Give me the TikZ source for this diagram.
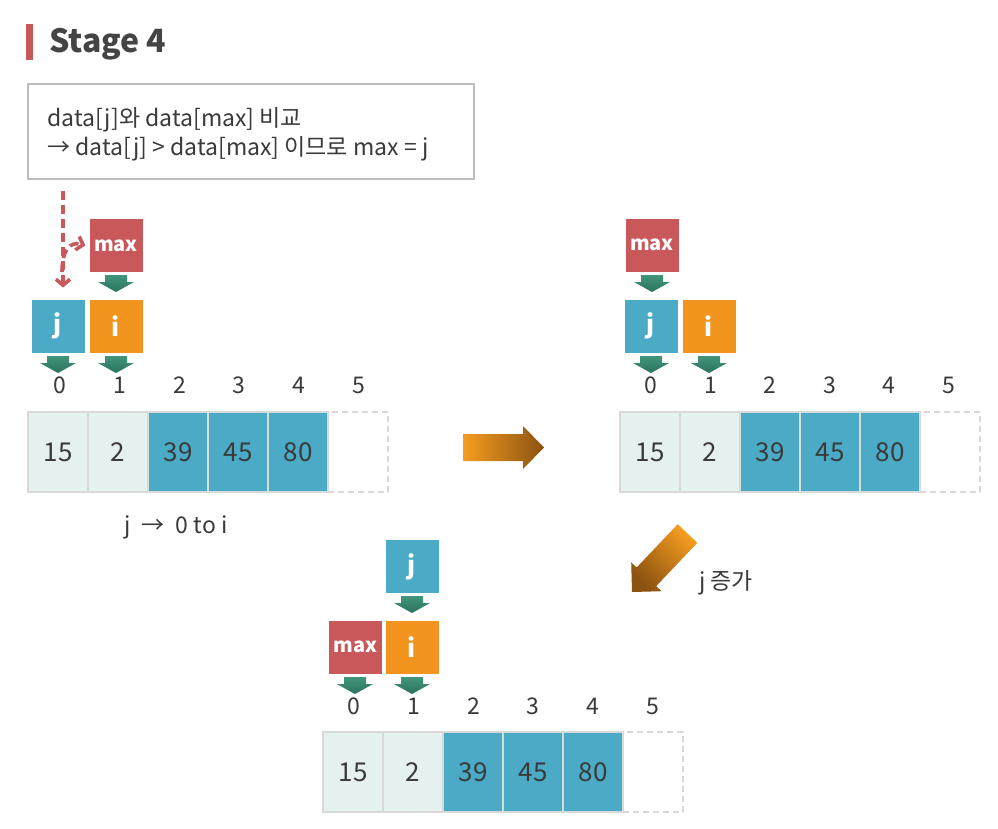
\documentclass[tikz,border=0pt]{standalone}
\usepackage{fontspec}
\setmainfont{Noto Sans CJK KR}
\usetikzlibrary{arrows.meta,calc,fit,backgrounds}
\definecolor{cred}{HTML}{C9585B}
\definecolor{cblue}{HTML}{4BABC6}
\definecolor{corange}{HTML}{F1951F}
\definecolor{gtop}{HTML}{42957C}
\definecolor{gbot}{HTML}{2A735E}
\definecolor{ctext}{HTML}{3A3A3A}
\definecolor{ctitle}{HTML}{444444}
\definecolor{clight}{HTML}{E5F1EE}
\definecolor{cgrid}{HTML}{D9D9D9}
\definecolor{cframe}{HTML}{F1F1F1}
\definecolor{cboxline}{HTML}{BDBDBD}
\definecolor{oa}{HTML}{F59D20}
\definecolor{ob}{HTML}{8B5210}
\tikzset{
  box/.style={minimum width=53pt, minimum height=53pt, inner sep=0pt, text=white,
    font=\bfseries\fontsize{25}{25}\selectfont},
  maxbox/.style={box, fill=cred, font=\bfseries\fontsize{20}{20}\selectfont},
  jbox/.style={box, fill=cblue},
  ibox/.style={box, fill=corange},
  framebox/.style={fill=cframe, inner sep=3.5pt},
  cell/.style={minimum width=60pt, minimum height=80pt, inner sep=0pt, draw=cgrid,
    line width=2pt, text=ctext, font=\fontsize{26}{26}\selectfont},
  lcell/.style={cell, fill=clight},
  bcell/.style={cell, fill=cblue},
  ecell/.style={cell, dashed, dash pattern=on 6pt off 4pt},
  idx/.style={text=ctext, font=\fontsize{23}{23}\selectfont, inner sep=0pt},
  reddash/.style={draw=cred, line width=3.6pt, dash pattern=on 9pt off 5pt,
    -{Straight Barb[length=6pt,width=14pt]}},
  garr/.pic={\shade[top color=gtop, bottom color=gbot]
    (-11,0) -- (11,0) -- (11,7) -- (18,7) -- (0,17) -- (-18,7) -- (-11,7) -- cycle;},
}
\begin{document}
\begin{tikzpicture}[x=1pt,y=-1pt]
\useasboundingbox (0,0) rectangle (998,828);
\fill[white] (0,0) rectangle (998,828);

% title
\fill[cred] (26,24) rectangle (33,60);
\node[anchor=base west, inner sep=0pt, text=ctitle, font=\bfseries\fontsize{32}{32}\selectfont] (title) at (49,52) {Stage 4};

% description box
\node[draw=cboxline, line width=1.5pt, minimum width=446pt, minimum height=95pt, inner sep=0pt] (desc) at (251,131.5) {};
\node[anchor=base west, inner sep=0pt, text=ctext, font=\fontsize{23}{23}\selectfont] (l1) at (47,126) {data[j]와 data[max] 비교};
\node[anchor=base west, inner sep=0pt, text=ctext, font=\fontsize{23}{23}\selectfont] (l2) at (47,155) {→ data[j] > data[max] 이므로 max = j};

% ---------- stage 1 (top left) ----------
\node[maxbox] (s1max) at (116,245.5) {max};
\node[jbox] (s1j) at (58,326) {j};
\node[ibox] (s1i) at (116,326) {i};
\begin{scope}[on background layer]
  \node[framebox, fit=(s1max)] (s1f1) {};
  \node[framebox, fit=(s1j)(s1i)] (s1f2) {};
\end{scope}
\pic at (116,275) {garr};
\pic at (58,356) {garr};
\pic at (116,356) {garr};
\foreach \v/\s [count=\k from 0] in {15/lcell,2/lcell,39/bcell,45/bcell,80/bcell,/ecell}{
  \node[\s] (s1c\k) at (58+60*\k,452) {\v};
  \node[idx] (s1x\k) at (60+59.7*\k,385) {\k};
}
\node[text=ctext, font=\fontsize{23}{23}\selectfont, inner sep=0pt] (loop) at (176,527) {j\hspace{11pt}→\hspace{11pt}0 to i};

% dashed red arrows
\coordinate (d0) at (63,191);
\coordinate (d1) at (62,272);
\draw[reddash, shorten >=8pt] (d0) -- (d0 |- s1f2.north);
\draw[reddash] (d1) .. controls (62,250) and (70,241) .. ([xshift=-4pt]s1max.west);

% horizontal orange arrow
\shade[left color=oa, right color=ob] (463,434) -- (523,434) -- (523,426) -- (544,447.5)
  -- (523,469) -- (523,461) -- (463,461) -- cycle;

% ---------- stage 2 (top right) ----------
\node[maxbox] (s2max) at (652,245) {max};
\node[jbox] (s2j) at (651,326) {j};
\node[ibox] (s2i) at (709,326) {i};
\begin{scope}[on background layer]
  \node[framebox, fit=(s2max)] (s2f1) {};
  \node[framebox, fit=(s2j)(s2i)] (s2f2) {};
\end{scope}
\pic at (652,275) {garr};
\pic at (651,356) {garr};
\pic at (709,356) {garr};
\foreach \v/\s [count=\k from 0] in {15/lcell,2/lcell,39/bcell,45/bcell,80/bcell,/ecell}{
  \node[\s] (s2c\k) at (650+60*\k,452) {\v};
  \node[idx] (s2x\k) at (651+59.5*\k,385) {\k};
}

% diagonal orange arrow
\shade[top color=oa, bottom color=ob, shading angle=-45]
  (677.7,524.2) -- (697.3,542.8) -- (656.2,586.1) -- (661.6,591.2) -- (632,592)
  -- (631.2,562.4) -- (636.6,567.5) -- cycle;
\node[text=ctext, font=\fontsize{23}{23}\selectfont, inner sep=0pt] (inc) at (726,583) {j 증가};

% ---------- stage 3 (bottom) ----------
\node[jbox] (s3j) at (412,566.5) {j};
\node[maxbox] (s3max) at (355.5,647) {max};
\node[ibox] (s3i) at (412,647) {i};
\begin{scope}[on background layer]
  \node[framebox, fit=(s3j)] (s3f1) {};
  \node[framebox, fit=(s3max)(s3i)] (s3f2) {};
\end{scope}
\pic at (412,596) {garr};
\pic at (355,677) {garr};
\pic at (412,677) {garr};
\foreach \v/\s [count=\k from 0] in {15/lcell,2/lcell,39/bcell,45/bcell,80/bcell,/ecell}{
  \node[\s] (s3c\k) at (353+60*\k,772) {\v};
  \node[idx] (s3x\k) at (354+59.7*\k,706) {\k};
}
\end{tikzpicture}
\end{document}
